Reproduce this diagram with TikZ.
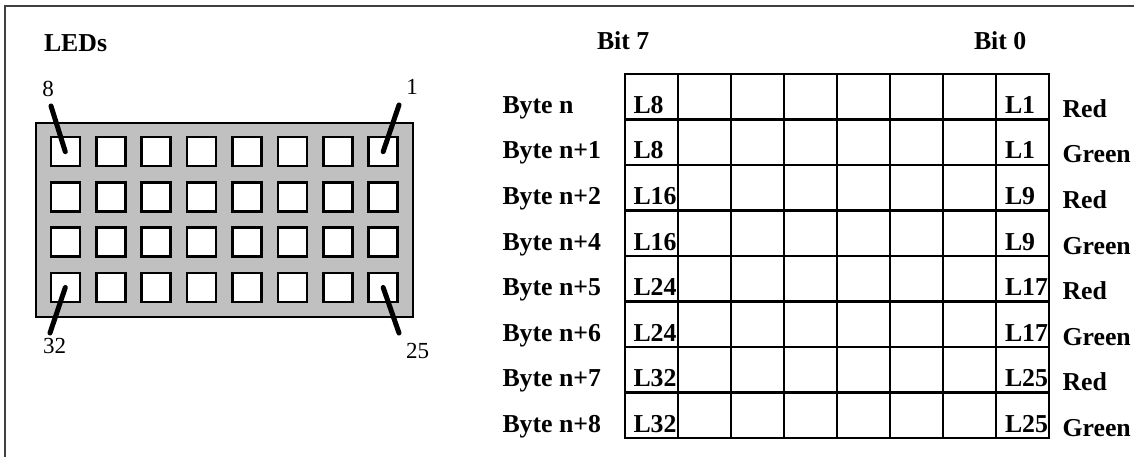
\documentclass[tikz,border=0pt]{standalone}
\usepackage{fontspec}
\setmainfont{Liberation Serif}
\usepackage{tikz}
\usetikzlibrary{positioning}
\definecolor{panelgray}{RGB}{192,192,192}
\tikzset{
  every picture/.style={line width=2pt, x=1pt, y=-1pt},
  sbold/.style={font=\bfseries\fontsize{25.8}{30}\selectfont, inner sep=0pt, anchor=base west},
  snum/.style={font=\fontsize{23}{27}\selectfont, inner sep=0pt, anchor=base},
  sled/.style={draw, fill=white, line width=2.6pt, minimum size=29pt, inner sep=0pt},
  spanel/.style={draw, fill=panelgray, line width=2.6pt},
  spin/.style={line width=5pt, line cap=round},
  sgrid/.style={line width=2.8pt},
  sframe/.style={line width=1.6pt, draw=black!75},
}

\begin{document}
\begin{tikzpicture}
  \useasboundingbox (0,0) rectangle (1134,457);
  % frame (left and top edge only)
  \draw[sframe] (5,457) -- (5,6) -- (1134,6);

  % LED panel
  \node[sbold] (leds) at (43,52) {LEDs};
  \draw[spanel] (36,123) rectangle (413,317);
  \foreach \r in {1,...,4}
    \foreach \c in {1,...,8} {
      \pgfmathtruncatemacro\n{(\r-1)*8+9-\c}
      \node[sled] (led\n) at ({65.3+45.41*(\c-1)},{151.7+45.27*(\r-1)}) {};
    }
  \node[snum] (num8) at (48,97) {8};
  \node[snum] (num1) at (412,95) {1};
  \node[snum] (num32) at (54.5,353) {32};
  \node[snum] (num25) at (417.5,358) {25};
  \coordinate (tip8) at (51,106);
  \coordinate (tip1) at (399,105);
  \coordinate (tip32) at (50,333);
  \coordinate (tip25) at (399,333);
  \draw[spin] (tip8) -- (led8.center);
  \draw[spin] (tip1) -- (led1.center);
  \draw[spin] (tip32) -- (led32.center);
  \draw[spin] (tip25) -- (led25.center);

  % byte table
  \node[sbold] (bitseven) at (596,50) {Bit 7};
  \node[sbold] (bitzero) at (973,50) {Bit 0};
  \draw[sgrid] (625,74) rectangle (1049,438);
  \foreach \k in {1,...,7} {
    \draw[sgrid] ({625+53*\k},74) -- ({625+53*\k},438);
    \draw[sgrid] (625,{74+45.5*\k}) -- (1049,{74+45.5*\k});
  }
  \foreach \b/\hi/\lo/\col [count=\i] in {n/L8/L1/Red, n+1/L8/L1/Green,
      n+2/L16/L9/Red, n+4/L16/L9/Green, n+5/L24/L17/Red, n+6/L24/L17/Green,
      n+7/L32/L25/Red, n+8/L32/L25/Green} {
    \pgfmathsetmacro\yb{74+45.5*\i-6}
    \node[sbold] (byte\i) at (501.5,\yb) {Byte \b};
    \node[sbold] (hi\i) at (632.5,\yb) {\hi};
    \node[sbold] (lo\i) at (1004,\yb) {\lo};
    \node[sbold] (col\i) at (1061.5,\yb+4) {\col};
  }
\end{tikzpicture}
\end{document}
